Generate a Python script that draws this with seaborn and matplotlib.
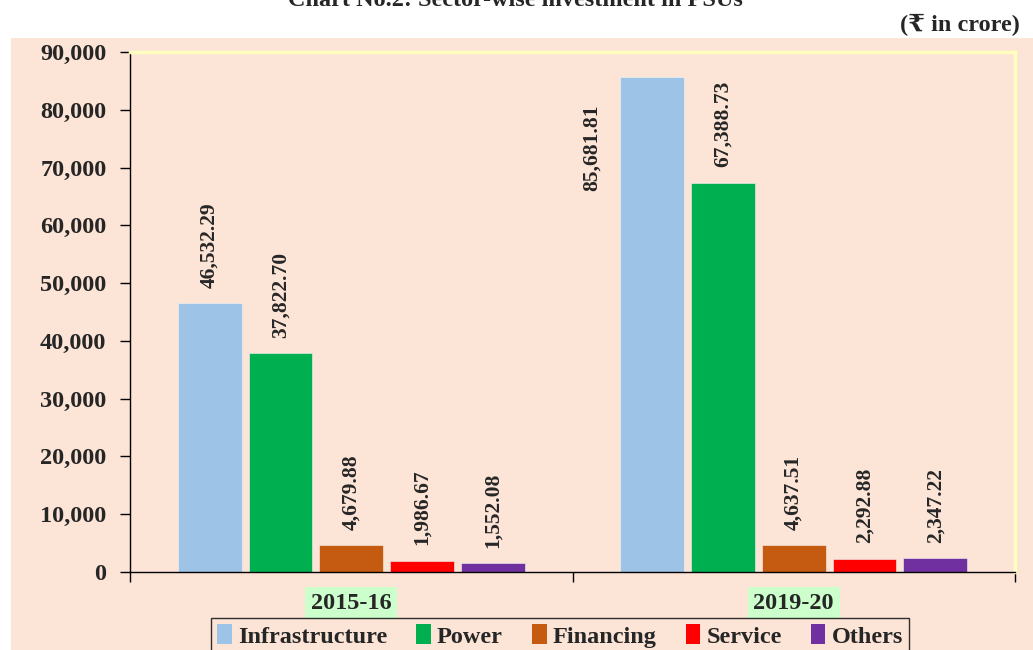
import numpy as np
import pandas as pd
import matplotlib.pyplot as plt
import seaborn as sns
from matplotlib.patches import Rectangle

# data (₹ in crore)
years = ["2015-16", "2019-20"]
sectors = ["Infrastructure", "Power", "Financing", "Service", "Others"]
infrastructure = [46532.29, 85681.81]
power = [37822.70, 67388.73]
financing = [4679.88, 4637.51]
service = [1986.67, 2292.88]
others = [1552.08, 2347.22]
colors = ["#9DC3E6", "#00B050", "#C55A11", "#FF0000", "#7030A0"]

peach = "#FCE4D6"

rows = []
for sector, vals in zip(sectors, [infrastructure, power, financing, service, others]):
    for yr, v in zip(years, vals):
        rows.append({"Year": yr, "Sector": sector, "Value": v})
df = pd.DataFrame(rows)

sns.set_style("white")
plt.rcParams["font.family"] = ["Liberation Serif", "DejaVu Serif"]
plt.rcParams["font.weight"] = "bold"

fig = plt.figure(figsize=(10.33, 6.5), dpi=100)
fig.patch.set_facecolor("white")
# peach panel behind the chart
fig.patches.append(Rectangle((11 / 1033, 0), 1, 1 - 38 / 650, transform=fig.transFigure,
                             facecolor=peach, edgecolor="none", zorder=-1))

ax = fig.add_axes([130 / 1033, 1 - 572 / 650, 885 / 1033, 520 / 650])
ax.set_facecolor(peach)

sns.barplot(data=df, x="Year", y="Value", hue="Sector", hue_order=sectors,
            order=years, palette=colors, width=0.8, gap=0.1,
            saturation=1, ax=ax, edgecolor="#F4F4F4", linewidth=0.4)

ax.set_ylim(0, 90000)
ax.set_xlim(-0.5, 1.5)
ax.set_yticks(np.arange(0, 90001, 10000))
ax.set_yticklabels([f"{int(t):,}" for t in np.arange(0, 90001, 10000)],
                   fontsize=17.5, fontweight="bold")
ax.tick_params(axis="y", direction="out", length=7, width=1, color="black", pad=10, left=True)
ax.tick_params(axis="x", which="major", length=0, pad=15)
ax.set_xticks([-0.5, 0.5, 1.5], minor=True)
ax.tick_params(axis="x", which="minor", direction="out", length=7, width=1, color="black", bottom=True)
for lab in ax.get_xticklabels():
    lab.set_fontsize(17.5)
    lab.set_fontweight("bold")
    lab.set_bbox(dict(facecolor="#CCFFCC", edgecolor="none", pad=4))
ax.set_xlabel("")
ax.set_ylabel("")

for side in ["left", "bottom"]:
    ax.spines[side].set_color("black")
    ax.spines[side].set_linewidth(1)
for side in ["top", "right"]:
    ax.spines[side].set_color("#FFFFC0")
    ax.spines[side].set_linewidth(2.5)
ax.grid(False)

# value labels
for container in ax.containers:
    for bar in container:
        h = bar.get_height()
        x = bar.get_x() + bar.get_width() / 2
        txt = f"{h:,.2f}"
        if h > 80000:
            ax.annotate(txt, xy=(bar.get_x(), h), xytext=(-13, -20),
                        textcoords="offset points", rotation=90,
                        ha="right", va="top", fontsize=15.5, fontweight="bold")
        else:
            ax.annotate(txt, xy=(x, h), xytext=(0, 11),
                        textcoords="offset points", rotation=90,
                        ha="center", va="bottom", fontsize=15.5, fontweight="bold")

ax.get_legend().remove()
handles = [Rectangle((0, 0), 1, 1, facecolor=c, edgecolor="none") for c in colors]
leg = fig.legend(handles, sectors, loc="upper center", ncol=5,
                 bbox_to_anchor=(560 / 1033, 1 - 618 / 650),
                 prop={"size": 17.5, "weight": "bold"}, frameon=True, fancybox=False,
                 handlelength=0.6, handleheight=0.9, handletextpad=0.25,
                 columnspacing=1.2, borderpad=0.25, borderaxespad=0)
leg.get_frame().set_edgecolor("black")
leg.get_frame().set_facecolor(peach)
leg.get_frame().set_linewidth(1)

fig.text(515 / 1033, 1.0, "Chart No.2: Sector-wise investment in PSUs",
         ha="center", va="center", fontsize=17.5, fontweight="bold")
fig.text(1020 / 1033, 1 - 25 / 650, "(₹ in crore)", ha="right", va="center",
         fontsize=17.5, fontweight="bold")

fig.savefig("out.png", dpi=100, facecolor=fig.get_facecolor())
